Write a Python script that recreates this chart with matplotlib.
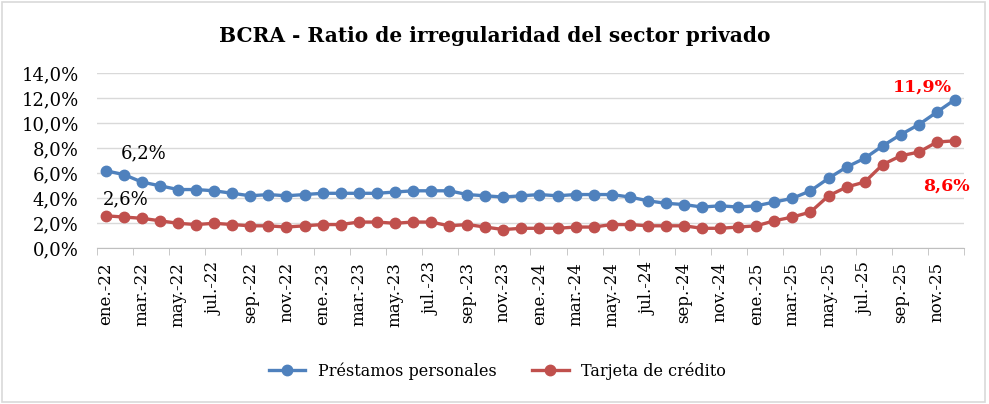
import numpy as np
import matplotlib.pyplot as plt
from matplotlib.ticker import FuncFormatter, FixedLocator
from matplotlib.patches import Rectangle

plt.rcParams['font.family'] = ['DejaVu Serif']

meses = ['ene', 'feb', 'mar', 'abr', 'may', 'jun', 'jul', 'ago', 'sep', 'oct', 'nov', 'dic']
anios = ['22', '23', '24', '25']
fechas = [m + '.-' + a for a in anios for m in meses]

prestamos = [6.2, 5.9, 5.3, 5.0, 4.7, 4.7, 4.6, 4.4, 4.2, 4.3, 4.2, 4.3,
             4.4, 4.4, 4.4, 4.4, 4.5, 4.6, 4.6, 4.6, 4.3, 4.2, 4.1, 4.2,
             4.3, 4.2, 4.3, 4.3, 4.3, 4.1, 3.8, 3.6, 3.5, 3.3, 3.4, 3.3,
             3.4, 3.7, 4.0, 4.6, 5.6, 6.5, 7.2, 8.2, 9.1, 9.9, 10.9, 11.9]
tarjeta = [2.6, 2.5, 2.4, 2.2, 2.0, 1.9, 2.0, 1.9, 1.8, 1.8, 1.7, 1.8,
           1.9, 1.9, 2.1, 2.1, 2.0, 2.1, 2.1, 1.8, 1.9, 1.7, 1.5, 1.6,
           1.6, 1.6, 1.7, 1.7, 1.9, 1.9, 1.8, 1.8, 1.8, 1.6, 1.6, 1.7,
           1.8, 2.2, 2.5, 2.9, 4.2, 4.9, 5.3, 6.7, 7.4, 7.7, 8.5, 8.6]

azul = '#4F81BD'
rojo = '#C0504D'

fig = plt.figure(figsize=(9.89, 4.04), dpi=100)
fig.patches.append(Rectangle((0.002, 0.004), 0.994, 0.992, transform=fig.transFigure,
                             fill=False, edgecolor='#d9d9d9', linewidth=1.2))
ax = fig.add_axes([0.0978, 0.3854, 0.877, 0.4332])

x = np.arange(len(fechas))
ax.plot(x, prestamos, color=azul, lw=2.4, marker='o', ms=7.5, label='Préstamos personales')
ax.plot(x, tarjeta, color=rojo, lw=2.4, marker='o', ms=7.5, label='Tarjeta de crédito')

ax.set_xlim(-0.5, len(fechas) - 0.5)
ax.set_ylim(0, 14)
ax.set_yticks(np.arange(0, 15, 2))
ax.yaxis.set_major_formatter(FuncFormatter(lambda v, p: f'{v:.1f}%'.replace('.', ',')))
ax.grid(axis='y', color='#d9d9d9', lw=1)
ax.set_axisbelow(True)
for s in ['left', 'right', 'top']:
    ax.spines[s].set_visible(False)
ax.spines['bottom'].set_color('#bfbfbf')
ax.tick_params(axis='y', length=0, labelsize=13, pad=13)

ax.set_xticks(x[::2])
ax.set_xticklabels(fechas[::2], rotation=90, fontsize=12)
ax.xaxis.set_minor_locator(FixedLocator(np.arange(-0.5, len(fechas), 2)))
ax.tick_params(axis='x', which='major', length=0, pad=10)
ax.tick_params(axis='x', which='minor', length=5, color='#bfbfbf')

ax.text(2.1, 7.6, '6,2%', fontsize=13, ha='center', va='center')
ax.text(1.1, 3.9, '2,6%', fontsize=13, ha='center', va='center')
ax.text(45.2, 12.9, '11,9%', fontsize=12.5, color='red', fontweight='bold', ha='center', va='center')
ax.text(46.5, 5.0, '8,6%', fontsize=12.5, color='red', fontweight='bold', ha='center', va='center')

fig.text(0.5, 0.912, 'BCRA - Ratio de irregularidad del sector privado',
         fontsize=14.5, fontweight='bold', ha='center', va='center')
fig.legend(loc='center', bbox_to_anchor=(0.503, 0.082), ncol=2, frameon=False,
           fontsize=11.5, handlelength=2.3, columnspacing=2.2)

fig.savefig('out.png', dpi=100)
